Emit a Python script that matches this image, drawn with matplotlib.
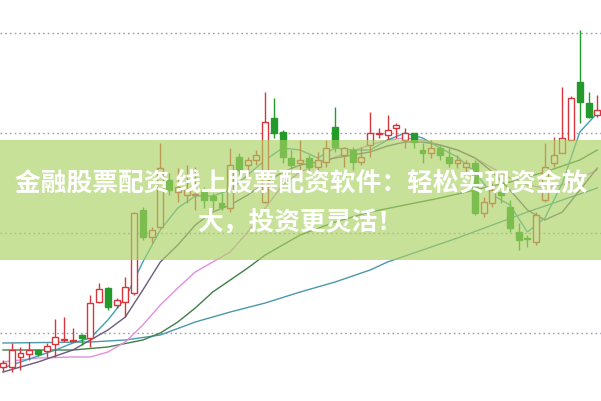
import matplotlib
matplotlib.use('Agg')
import matplotlib.pyplot as plt
import numpy as np

# daily candles (open, high, low, close)
opens = [9.32, 9.32, 9.52, 9.58, 9.66, 9.64, 9.78, 9.86, 9.84, 9.96,
         9.90, 10.62, 10.90, 10.56, 10.62, 10.80, 12.46, 11.92, 12.12, 13.06,
         12.82, 12.76, 12.76, 12.82, 12.74, 12.60, 12.50, 13.52, 13.36, 13.46,
         12.62, 14.30, 14.02, 13.50, 13.40, 13.50, 13.32, 13.42, 14.12, 13.56,
         13.66, 13.42, 13.76, 13.98, 13.96, 14.10, 13.86, 14.00, 13.66, 13.60,
         13.70, 13.52, 13.40, 13.32, 13.40, 12.40, 12.60, 12.82, 12.52, 12.02,
         11.90, 11.82, 12.66, 13.40, 13.60, 13.86, 15.02, 14.60, 14.36]
highs = [9.46, 9.80, 9.72, 9.82, 9.68, 9.80, 10.28, 10.32, 10.10, 9.98,
         10.76, 11.00, 10.92, 10.70, 11.12, 12.42, 12.52, 12.12, 13.80, 13.20,
         13.30, 13.36, 13.32, 12.92, 12.80, 12.80, 13.70, 13.60, 13.52, 13.66,
         14.82, 14.70, 14.06, 13.66, 13.86, 13.56, 13.62, 13.86, 14.52, 13.72,
         13.72, 13.72, 14.42, 14.10, 14.36, 14.20, 14.10, 14.00, 13.80, 13.86,
         13.76, 13.70, 13.56, 13.46, 13.46, 12.72, 13.00, 12.92, 12.66, 12.20,
         11.96, 12.42, 13.80, 13.92, 14.92, 14.74, 16.06, 14.82, 14.76]
lows = [9.22, 9.22, 9.26, 9.46, 9.54, 9.52, 9.52, 9.82, 9.82, 9.76,
        9.72, 10.60, 10.46, 10.50, 10.32, 10.76, 11.86, 11.80, 12.10, 12.76,
        12.62, 12.60, 12.46, 12.50, 12.46, 12.46, 12.42, 13.06, 13.12, 13.36,
        12.60, 13.90, 13.40, 13.30, 13.22, 13.26, 13.26, 13.32, 13.62, 13.32,
        13.26, 13.36, 13.52, 13.90, 13.86, 13.90, 13.70, 13.70, 13.40, 13.50,
        13.46, 13.32, 13.30, 13.20, 12.36, 12.32, 12.52, 12.60, 12.02, 11.66,
        11.72, 11.76, 12.62, 13.32, 13.60, 13.86, 14.20, 14.30, 14.32]
closes = [9.40, 9.66, 9.60, 9.66, 9.58, 9.74, 9.92, 9.88, 9.86, 9.90,
          10.60, 10.88, 10.52, 10.66, 10.92, 12.40, 11.92, 12.06, 13.30, 12.86,
          12.92, 12.86, 12.78, 12.66, 12.66, 12.52, 13.36, 13.26, 13.46, 13.56,
          14.22, 14.00, 13.52, 13.36, 13.46, 13.32, 13.46, 13.70, 13.72, 13.70,
          13.42, 13.52, 14.00, 14.00, 14.06, 14.16, 14.00, 13.82, 13.60, 13.70,
          13.56, 13.40, 13.46, 13.40, 12.40, 12.62, 12.86, 12.76, 12.10, 11.86,
          11.88, 12.36, 13.32, 13.56, 13.90, 14.70, 14.62, 14.32, 14.46]

# moving average lines (day index, price)
ma5_idx = [0, 2, 4, 6, 8, 10, 12, 14, 16, 18, 20, 22, 24, 26, 28, 30, 32, 34,
           36, 38, 40, 42, 44, 46, 48, 50, 52, 54, 56, 58, 60, 62, 64, 66, 68]
ma5_val = [9.30, 9.42, 9.54, 9.66, 9.80, 9.90, 10.26, 10.70, 11.42, 12.06,
           12.50, 12.74, 12.74, 12.86, 13.16, 13.46, 13.70, 13.66, 13.50, 13.70,
           13.66, 13.66, 13.86, 14.00, 13.90, 13.70, 13.52, 13.22, 12.76, 12.56,
           12.02, 12.30, 13.00, 14.02, 14.40]
ma10_idx = [0, 4, 8, 10, 12, 14, 16, 18, 20, 22, 24, 26, 28, 30, 32, 34, 36,
            38, 40, 42, 44, 46, 48, 50, 52, 54, 56, 58, 60, 62, 64, 66, 68]
ma10_val = [9.22, 9.42, 9.66, 9.86, 10.06, 10.32, 10.86, 11.42, 11.76, 12.16,
            12.42, 12.56, 12.76, 13.00, 13.22, 13.36, 13.42, 13.50, 13.56, 13.62,
            13.74, 13.82, 13.82, 13.76, 13.66, 13.50, 13.22, 12.86, 12.46, 12.26,
            12.42, 12.86, 13.30]
ma20_idx = [0, 4, 8, 10, 12, 14, 16, 18, 20, 22, 24, 26, 28, 30, 32, 34, 38,
            42, 44, 46, 48, 50, 52, 54, 56, 58, 60, 62, 64, 66, 68]
ma20_val = [9.42, 9.50, 9.52, 9.52, 9.62, 9.82, 10.16, 10.56, 10.90, 11.22,
            11.42, 11.62, 12.02, 12.50, 12.96, 13.22, 13.52, 13.76, 13.86, 13.90,
            13.86, 13.76, 13.66, 13.50, 13.30, 13.10, 12.96, 12.90, 12.96, 13.10,
            13.26]
ma30_idx = [0, 8, 12, 16, 18, 20, 22, 24, 26, 28, 30, 32, 34, 38, 42, 46, 50,
            54, 58, 62, 66, 68]
ma30_val = [9.66, 9.66, 9.72, 9.86, 10.00, 10.22, 10.50, 10.82, 11.06, 11.30,
            11.56, 11.76, 11.96, 12.22, 12.42, 12.56, 12.70, 12.86, 13.02, 13.22,
            13.46, 13.66]
ma60_idx = [0, 10, 14, 18, 22, 26, 30, 34, 38, 42, 44, 48, 52, 56, 60, 64, 68]
ma60_val = [9.80, 9.82, 9.86, 9.96, 10.22, 10.42, 10.60, 10.82, 11.02, 11.26,
            11.42, 11.66, 11.90, 12.16, 12.42, 12.66, 12.90]

grid_prices = [10, 12, 14, 16]

title_line1 = '金融股票配资 线上股票配资软件：轻松实现资金放'
title_line2 = '大，投资更灵活！'

RED = '#d8343c'
GREEN = '#249a2c'

fig = plt.figure(figsize=(6.01, 4.01), dpi=100)
ax = fig.add_axes([0, 0, 1, 1])
ax.set_xlim(-0.343, 68.42)
ax.set_ylim(8.64, 16.66)
ax.axis('off')

for g in grid_prices:
    ax.axhline(g, color='#9a9ab4', lw=1.0, ls=(0, (1.2, 2.2)), zorder=1)

ax.plot(ma60_idx, ma60_val, color='#4b98aa', lw=1.0, zorder=2)
ax.plot(ma30_idx, ma30_val, color='#3f7f48', lw=1.0, zorder=2)
ax.plot(ma20_idx, ma20_val, color='#e48ee0', lw=1.0, zorder=2)
ax.plot(ma10_idx, ma10_val, color='#6a5a80', lw=1.0, zorder=2)
ax.plot(ma5_idx, ma5_val, color='#3fa0b4', lw=1.0, zorder=2)

x = np.arange(len(opens))
o = np.array(opens)
c = np.array(closes)
up = c >= o
col = np.where(up, RED, GREEN)
ax.vlines(x, lows, highs, colors=col, lw=1.0, zorder=3)
body_lo = np.minimum(o, c)
body_h = np.maximum(np.abs(c - o), 0.005)
ax.bar(x[up], body_h[up], bottom=body_lo[up], width=0.68,
       facecolor='white', edgecolor=RED, lw=1.0, zorder=4)
ax.bar(x[~up], body_h[~up], bottom=body_lo[~up], width=0.68,
       facecolor=GREEN, edgecolor=GREEN, lw=1.0, zorder=4)

# translucent banner
fig.patches.append(plt.Rectangle((0, 1 - 260 / 401), 1, 120 / 401,
                                 transform=fig.transFigure,
                                 facecolor=(0.67, 0.82, 0.39), alpha=0.65,
                                 edgecolor='none', zorder=5))

fam = ['Noto Sans CJK SC', 'DejaVu Sans']
fig.text(0.501, 1 - 183 / 401, title_line1, ha='center', va='center',
         color='white', fontsize=18.5, fontweight='bold', family=fam, zorder=6)
fig.text(0.5, 1 - 222 / 401, title_line2, ha='center', va='center',
         color='white', fontsize=18.5, fontweight='bold', family=fam, zorder=6)

fig.savefig('out.png', dpi=100)
